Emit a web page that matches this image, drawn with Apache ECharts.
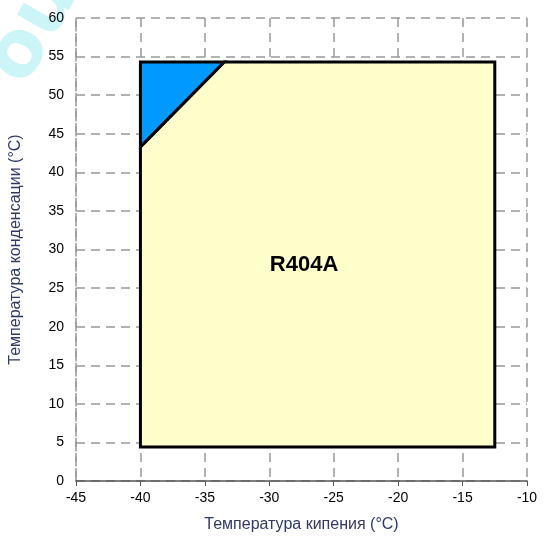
<!DOCTYPE html>
<html>
<head>
<meta charset="utf-8">
<script src="https://cdn.jsdelivr.net/npm/echarts@6/dist/echarts.min.js"></script>
<style>
html,body{margin:0;padding:0;background:#fff;}
#chart{width:545px;height:545px;}
</style>
</head>
<body>
<div id="chart"></div>
<script>
// рабочая область R404A
var zoneX = [-40, -33.5, -12.5, -12.5, -40];
var zoneY = [43.3, 54.3, 54.3, 4.4, 4.4];
// треугольник (синий)
var cornerX = [-40, -33.5, -40];
var cornerY = [54.3, 54.3, 43.3];
var labelPos = [-27.3, 28];
var labelText = 'R404A';

var chart = echarts.init(document.getElementById('chart'));

function toPoints(xs, ys){
	var pts = [];
	for(var i=0;i<xs.length;i++){
		pts.push([xs[i], ys[i]]);
	}
	return pts;
}

var polygons = [
	{pts: toPoints(zoneX, zoneY), color: '#ffffcc'},
	{pts: toPoints(cornerX, cornerY), color: '#0099ff'}
];

option = {
	animation: false,
	grid: {left: 75, right: 18, top: 18, bottom: 64},
	graphic: [{
		type: 'group',
		x: -27, y: 58,
		rotation: 1.05,
		children: [{
			type: 'text',
			x: 0, y: 0,
			style: {text: 'ou', fill: 'rgba(0,205,215,0.2)', font: 'bold 78px "DejaVu Sans"', verticalAlign: 'top'}
		}]
	}],
	xAxis: {
		type: 'value',
		min: -45, max: -10, interval: 5,
		name: 'Температура кипения (°C)',
		nameLocation: 'middle',
		nameGap: 36,
		nameTextStyle: {color: '#2e3a66', fontSize: 16, fontFamily: 'Liberation Sans'},
		axisLine: {show: true, lineStyle: {color: '#555', width: 1.5}},
		axisTick: {show: true, length: 5, lineStyle: {color: '#555'}},
		axisLabel: {color: '#000', fontSize: 14, fontFamily: 'Liberation Sans', margin: 10},
		splitLine: {show: true, lineStyle: {color: '#999', type: [9, 6], width: 1.5}}
	},
	yAxis: {
		type: 'value',
		min: 0, max: 60, interval: 5,
		name: 'Температура конденсации (°C)',
		nameLocation: 'middle',
		nameGap: 52,
		nameTextStyle: {color: '#2e3a66', fontSize: 16, fontFamily: 'Liberation Sans'},
		axisLine: {show: true, lineStyle: {color: '#999', type: [9, 6], width: 1.5}},
		axisTick: {show: false},
		axisLabel: {color: '#000', fontSize: 14, fontFamily: 'Liberation Sans', margin: 12},
		splitLine: {show: true, lineStyle: {color: '#999', type: [9, 6], width: 1.5}}
	},
	series: [
		{
			type: 'custom',
			data: [0, 1],
			renderItem: function(params, api){
				var poly = polygons[params.dataIndex];
				var pts = poly.pts.map(function(p){ return api.coord(p); });
				return {
					type: 'polygon',
					shape: {points: pts},
					style: {fill: poly.color, stroke: '#000', lineWidth: 3, lineJoin: 'miter'}
				};
			}
		},
		{
			type: 'custom',
			data: [labelPos],
			renderItem: function(params, api){
				var c = api.coord([api.value(0), api.value(1)]);
				return {
					type: 'text',
					x: c[0], y: c[1],
					style: {
						text: labelText,
						fill: '#000',
						font: 'bold 22px "Liberation Sans"',
						align: 'center',
						verticalAlign: 'middle'
					}
				};
			}
		}
	]
};

chart.setOption(option);
</script>
</body>
</html>
